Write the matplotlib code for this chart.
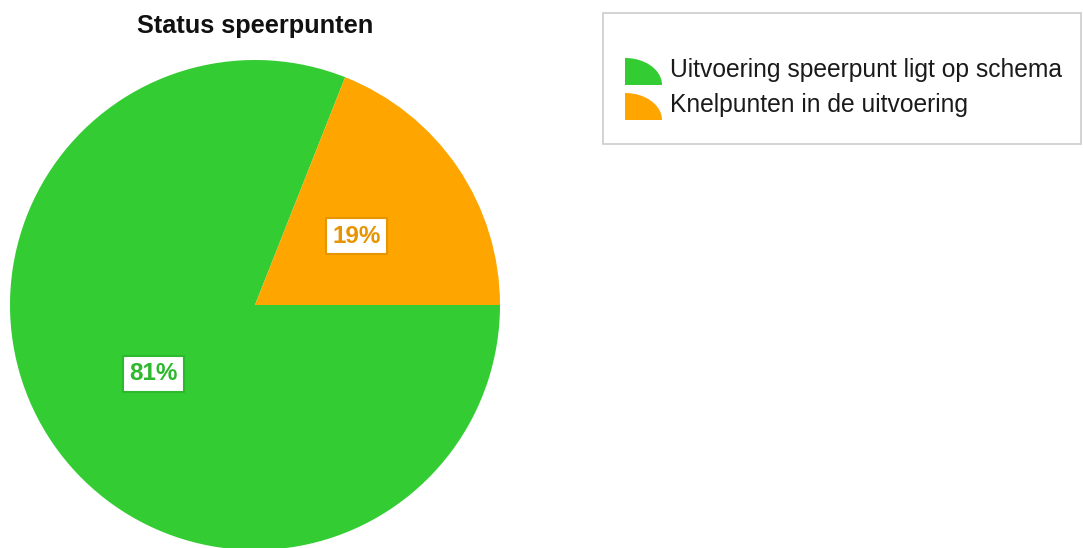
import matplotlib
matplotlib.use("Agg")
import matplotlib.pyplot as plt
import numpy as np
from matplotlib.patches import Polygon, Rectangle

plt.rcParams["font.family"] = ["Liberation Sans", "DejaVu Sans"]

# data
title = "Status speerpunten"
categories = ["Uitvoering speerpunt ligt op schema", "Knelpunten in de uitvoering"]
values = [81, 19]
colors = ["#33cc33", "#ffa500"]
edge_colors = ["#2eb82e", "#e69500"]

W, H = 1083, 548
fig = plt.figure(figsize=(W / 100, H / 100), dpi=100)
fig.patch.set_facecolor("white")

# pie, first slice starts where the second one ends (second slice sits at 3 o'clock going ccw)
ax = fig.add_axes([10 / W, -2 / H, 490 / W, 490 / H])
start = 360 * values[1] / sum(values)
wedges, _, autotexts = ax.pie(
    values,
    colors=colors,
    startangle=start,
    counterclock=True,
    radius=1,
    autopct="%d%%",
    pctdistance=0.5,
    wedgeprops={"linewidth": 0},
    textprops={"fontsize": 17.5, "fontweight": "bold"},
)
for t, ec in zip(autotexts, edge_colors):
    t.set_color(ec)
    t.set_bbox({"facecolor": "white", "edgecolor": ec, "linewidth": 1.5,
                "boxstyle": "square,pad=0.26"})
ax.set_xlim(-1, 1)
ax.set_ylim(-1, 1)
ax.set_aspect("equal")
ax.axis("off")

fig.text(255 / W, 1 - 33 / H, title, ha="center", va="baseline", fontsize=18.3,
         fontweight="bold", color="#111111")

# legend box drawn in pixel coordinates
lx0, ly0, lw, lh = 602, 12, 480, 133
lax = fig.add_axes([lx0 / W, 1 - (ly0 + lh) / H, lw / W, lh / H])
lax.set_xlim(0, lw)
lax.set_ylim(lh, 0)
lax.axis("off")
lax.add_patch(Rectangle((0.5, 0.5), lw - 1.5, lh - 1.5, facecolor="white",
                        edgecolor="#cccccc", linewidth=1.2))

theta = np.linspace(0, np.pi / 2, 30)
for i, (name, c) in enumerate(zip(categories, colors)):
    base = 77 + 35 * i - ly0
    x0, y0 = 625 - lx0, base + 8
    rx, ry = 37, 27
    pts = [(x0, y0)] + [(x0 + rx * np.cos(a), y0 - ry * np.sin(a)) for a in theta]
    lax.add_patch(Polygon(pts, closed=True, facecolor=c, edgecolor="none"))
    lax.text(670 - lx0, base, name, va="baseline", ha="left", fontsize=17.7, color="#1a1a1a")

fig.savefig("out.png", dpi=100)
